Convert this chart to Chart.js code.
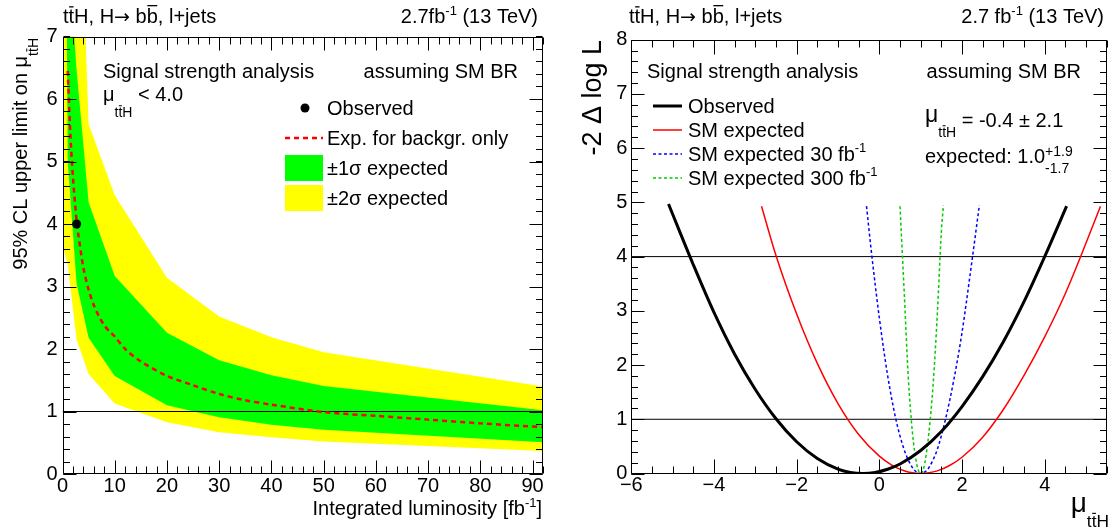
<!DOCTYPE html>
<html>
<head>
<meta charset="utf-8">
<script src="https://cdn.jsdelivr.net/npm/chart.js@4.4.1/dist/chart.umd.min.js"></script>
<style>
  html, body { margin: 0; padding: 0; background: #fff; }
  #wrap { position: relative; width: 1113px; height: 531px; overflow: hidden; }
  canvas { position: absolute; top: 0; }
  #cL { left: 0; }
  #cR { left: 556px; }
</style>
</head>
<body>
<div id="wrap">
  <canvas id="cL" width="556" height="531"></canvas>
  <canvas id="cR" width="557" height="531"></canvas>
</div>
<script>
// ---------- left panel: 95% CL upper limit on mu vs integrated luminosity ----------
const lumiBand   = [0.2, 1, 2.7, 5, 10, 20, 30, 40, 50, 92];
const band2SigLo = [3.6, 3.35, 2.15, 1.6, 1.13, 0.83, 0.67, 0.59, 0.52, 0.37];
const band1SigLo = [15, 5.0, 3.05, 2.18, 1.57, 1.1, 0.91, 0.79, 0.71, 0.51];
const band1SigHi = [25, 8.5, 6.46, 4.35, 3.17, 2.26, 1.82, 1.58, 1.41, 1.02];
const band2SigHi = [35, 20, 11, 5.6, 4.46, 3.14, 2.52, 2.19, 1.95, 1.40];
const lumiExp    = [1, 1.5, 2, 2.7, 3, 4, 5, 6, 7, 8, 9, 10, 12, 15, 20, 25, 30, 35, 40, 50, 60, 70, 80, 92];
const limitExp   = [6.45, 5.45, 4.75, 4.05, 3.85, 3.3, 2.95, 2.7, 2.52, 2.38, 2.28, 2.2, 2.0, 1.8, 1.57, 1.42, 1.28, 1.18, 1.11, 0.99, 0.93, 0.87, 0.81, 0.75];
const lumiObs    = [2.7];
const limitObs   = [4.0];
const lumiRange  = [0, 92];
const limitRange = [0, 7];
const lumiTicks  = [0, 10, 20, 30, 40, 50, 60, 70, 80, 90];
const limitTicks = [0, 1, 2, 3, 4, 5, 6, 7];
const limitRefLevels = [1];

// ---------- right panel: -2 delta log L scans ----------
const muObs    = [-5.1, -4.5, -4.0, -3.5, -3.0, -2.5, -2.0, -1.5, -1.0, -0.7, -0.4, -0.1, 0.2, 0.5, 1.0, 1.5, 2.0, 2.5, 3.0, 3.5, 4.0, 4.53];
const nllObs   = [4.97, 3.85, 2.97, 2.20, 1.55, 1.01, 0.586, 0.277, 0.082, 0.021, 0, 0.019, 0.078, 0.175, 0.424, 0.774, 1.235, 1.786, 2.43, 3.17, 4.0, 4.93];
const muSM     = [-2.85, -2.5, -2.0, -1.5, -1.0, -0.5, 0, 0.3, 0.6, 0.8, 1.0, 1.2, 1.4, 1.7, 2.0, 2.5, 3.0, 3.5, 4.0, 4.5, 5.0, 5.35];
const nllSM    = [4.93, 4.02, 2.94, 2.03, 1.29, 0.72, 0.32, 0.156, 0.051, 0.013, 0, 0.012, 0.048, 0.148, 0.30, 0.67, 1.18, 1.81, 2.52, 3.32, 4.25, 4.93];
const muSM30   = [-0.31, -0.2, 0, 0.2, 0.4, 0.6, 0.8, 0.9, 1.0, 1.1, 1.2, 1.4, 1.6, 1.8, 2.0, 2.2, 2.42];
const nllSM30  = [4.93, 4.14, 2.87, 1.81, 1.0, 0.44, 0.11, 0.028, 0, 0.028, 0.11, 0.44, 1.0, 1.72, 2.6, 3.69, 4.95];
const muSM300  = [0.5, 0.6, 0.7, 0.8, 0.9, 0.95, 1.0, 1.05, 1.1, 1.2, 1.3, 1.4, 1.5, 1.55];
const nllSM300 = [4.93, 3.37, 1.78, 0.76, 0.19, 0.047, 0, 0.047, 0.19, 0.76, 1.63, 2.9, 4.45, 4.95];
const muRange  = [-6, 5.5];
const nllRange = [0, 8];
const muTicks  = [-6, -4, -2, 0, 2, 4];
const muTickLabels = ['\u22126', '\u22124', '\u22122', '0', '2', '4'];
const nllTicks = [0, 1, 2, 3, 4, 5, 6, 7, 8];
const nllRefLevels = [1, 4];

const FONT = '"Liberation Sans", Arial, Helvetica, sans-serif';
const SYMFONT = '"DejaVu Sans", sans-serif';
const YELLOW = '#ffff00', GREEN = '#00ff00';

const pts = (xs, ys) => xs.map((x, i) => ({ x, y: ys[i] }));
const flat = (range, level) => [{ x: range[0], y: level }, { x: range[1], y: level }];
const noLine = { borderColor: 'rgba(0,0,0,0)', borderWidth: 0, pointRadius: 0, tension: 0 };

// text with sub/superscripts and overbars
function richText(ctx, parts, x, y, size, align) {
  const items = parts.map(p => (typeof p === 'string') ? { t: p } : Object.assign({}, p));
  let total = 0;
  for (const it of items) {
    it.fs = size * (it.sc || 1);
    it.font = it.fs + 'px ' + (it.ff || FONT);
    ctx.font = it.font;
    it.w = it.stack ? Math.max(...it.stack.map(s => ctx.measureText(s).width)) : ctx.measureText(it.t).width;
    total += it.w;
  }
  let cx = align === 'right' ? x - total : (align === 'center' ? x - total / 2 : x);
  ctx.textAlign = 'left';
  ctx.textBaseline = 'alphabetic';
  for (const it of items) {
    ctx.font = it.font;
    if (it.stack) {
      ctx.fillText(it.stack[0], cx, y + it.up * size);
      ctx.fillText(it.stack[1], cx, y + it.dn * size);
    } else {
      const by = y + (it.dy || 0) * size;
      ctx.fillText(it.t, cx, by);
      if (it.bar) ctx.fillRect(cx + it.fs * 0.03, by - it.fs * it.bar, it.w - it.fs * 0.06, Math.max(1, it.fs * 0.065));
    }
    cx += it.w;
  }
}
const ttH = (sc, dy) => [{ t: 't', sc, dy }, { t: 't', sc, dy, bar: 0.84 }, { t: 'H', sc, dy }];
const header = ['t', { t: 't', bar: 0.84 }, 'H, H', { t: '\u2192', ff: SYMFONT, sc: 0.95 }, ' b', { t: 'b', bar: 0.9 }, ', l+jets'];

// frame with inward ticks on all four sides, placed through the chart scales
const frameTicks = {
  id: 'frameTicks',
  afterDatasetsDraw(chart, args, o) {
    const { ctx, chartArea: a, scales: { x, y } } = chart;
    const L = Math.round(a.left) + 0.5, R = Math.round(a.right) - 0.5;
    const T = Math.round(a.top) + 0.5, B = Math.round(a.bottom) - 0.5;
    ctx.save();
    ctx.strokeStyle = '#000';
    ctx.lineWidth = 1;
    ctx.beginPath();
    ctx.rect(L, T, R - L, B - T);
    const xt = (v, len) => {
      const p = Math.round(x.getPixelForValue(v)) + 0.5;
      ctx.moveTo(p, B); ctx.lineTo(p, B - len);
      ctx.moveTo(p, T); ctx.lineTo(p, T + len);
    };
    const yt = (v, len) => {
      const p = Math.round(y.getPixelForValue(v)) + 0.5;
      ctx.moveTo(L, p); ctx.lineTo(L + len, p);
      ctx.moveTo(R, p); ctx.lineTo(R - len, p);
    };
    const eps = 1e-9;
    for (let v = o.xMin; v <= o.xMax + eps; v += o.xMinor) xt(v, o.xMinLen);
    for (let v = o.xFirstMajor; v <= o.xMax + eps; v += o.xMajor) xt(v, o.xMajLen);
    for (let v = o.yMin; v <= o.yMax + eps; v += o.yMinor) yt(v, o.yMinLen);
    for (let v = o.yMin; v <= o.yMax + eps; v += o.yMajor) yt(v, o.yMajLen);
    ctx.stroke();
    ctx.restore();
  }
};

const tickFont = { family: FONT, size: 20 };

// ---------- left chart ----------
const leftTexts = {
  id: 'leftTexts',
  afterDraw(chart) {
    const ctx = chart.ctx;
    ctx.save();
    ctx.fillStyle = '#000';
    richText(ctx, header, 63, 23, 20, 'left');
    richText(ctx, ['2.7fb', { t: '-1', sc: 0.65, dy: -0.42 }, ' (13 TeV)'], 538, 23, 20, 'right');
    richText(ctx, ['Signal strength analysis'], 103, 78, 20, 'left');
    richText(ctx, ['assuming SM BR'], 518, 78, 20, 'right');
    richText(ctx, [{ t: '\u03bc' }, ...ttH(0.7, 0.8), ' < 4.0'], 103, 101, 20, 'left');

    // legend
    ctx.beginPath();
    ctx.arc(305, 108, 4.5, 0, Math.PI * 2);
    ctx.fill();
    richText(ctx, ['Observed'], 327, 115, 20, 'left');
    ctx.save();
    ctx.strokeStyle = '#ff0000';
    ctx.lineWidth = 2.5;
    ctx.setLineDash([5, 4]);
    ctx.beginPath(); ctx.moveTo(285, 138); ctx.lineTo(323, 138); ctx.stroke();
    ctx.restore();
    richText(ctx, ['Exp. for backgr. only'], 327, 145, 20, 'left');
    ctx.fillStyle = GREEN; ctx.fillRect(285, 155, 38, 26);
    ctx.fillStyle = YELLOW; ctx.fillRect(285, 185, 38, 26);
    ctx.fillStyle = '#000';
    richText(ctx, ['\u00b11\u03c3 expected'], 327, 175, 20, 'left');
    richText(ctx, ['\u00b12\u03c3 expected'], 327, 205, 20, 'left');

    // axis titles
    richText(ctx, ['Integrated luminosity [fb', { t: '-1', sc: 0.65, dy: -0.42 }, ']'], 542, 515, 20, 'right');
    ctx.save();
    ctx.translate(27, 38);
    ctx.rotate(-Math.PI / 2);
    richText(ctx, ['95% CL upper limit on \u03bc', ...ttH(0.7, 0.55)], 0, 0, 20, 'right');
    ctx.restore();
    ctx.restore();
  }
};

new Chart(document.getElementById('cL'), {
  type: 'line',
  data: {
    datasets: [
      Object.assign({ data: pts(lumiBand, band2SigHi), fill: 1, backgroundColor: YELLOW, order: 10 }, noLine),
      Object.assign({ data: pts(lumiBand, band2SigLo), fill: false, order: 9 }, noLine),
      Object.assign({ data: pts(lumiBand, band1SigHi), fill: 3, backgroundColor: GREEN, order: 8 }, noLine),
      Object.assign({ data: pts(lumiBand, band1SigLo), fill: false, order: 7 }, noLine),
      ...limitRefLevels.map(l => ({ data: flat(lumiRange, l), borderColor: '#000', borderWidth: 1, pointRadius: 0, fill: false, order: 5 })),
      { data: pts(lumiExp, limitExp), borderColor: '#ff0000', borderWidth: 2.5, borderDash: [5, 4], pointRadius: 0, fill: false, tension: 0.3, order: 3 },
      { data: pts(lumiObs, limitObs), showLine: false, pointRadius: 4.5, pointBackgroundColor: '#000', pointBorderWidth: 0, borderColor: '#000', order: 1 }
    ]
  },
  options: {
    responsive: false, animation: false, events: [],
    layout: { padding: { left: 0, right: 13, top: 36.5, bottom: 0 } },
    plugins: {
      legend: { display: false }, tooltip: { enabled: false },
      frameTicks: { xMin: 0, xMax: 92, xMinor: 2, xMajor: 10, xFirstMajor: 0, xMajLen: 13, xMinLen: 7,
                    yMin: 0, yMax: 7, yMinor: 0.2, yMajor: 1, yMajLen: 13, yMinLen: 6.5 }
    },
    scales: {
      x: {
        type: 'linear', min: lumiRange[0], max: lumiRange[1],
        grid: { display: false, drawTicks: false }, border: { display: false },
        afterBuildTicks: s => { s.ticks = lumiTicks.map(v => ({ value: v })); },
        afterFit: s => { s.height = 57; },
        ticks: { font: tickFont, color: '#000', padding: 0, autoSkip: false, maxRotation: 0 }
      },
      y: {
        type: 'linear', min: limitRange[0], max: limitRange[1],
        grid: { display: false, drawTicks: false }, border: { display: false },
        afterBuildTicks: s => { s.ticks = limitTicks.map(v => ({ value: v })); },
        afterFit: s => { s.width = 62.5; },
        ticks: { font: tickFont, color: '#000', padding: 5, autoSkip: false }
      }
    }
  },
  plugins: [frameTicks, leftTexts]
});

// ---------- right chart ----------
const OFF = 556;
const rightTexts = {
  id: 'rightTexts',
  afterDraw(chart) {
    const ctx = chart.ctx;
    ctx.save();
    ctx.translate(-OFF, 0);
    ctx.fillStyle = '#000';
    richText(ctx, header, 629, 23, 20, 'left');
    richText(ctx, ['2.7 fb', { t: '-1', sc: 0.65, dy: -0.42 }, ' (13 TeV)'], 1104, 23, 20, 'right');
    richText(ctx, ['Signal strength analysis'], 647, 78, 20, 'left');
    richText(ctx, ['assuming SM BR'], 1081, 78, 20, 'right');

    // legend
    const rows = [
      { y: 106, color: '#000', w: 3, dash: [], label: ['Observed'] },
      { y: 130, color: '#ff0000', w: 1.5, dash: [], label: ['SM expected'] },
      { y: 154, color: '#0000ff', w: 1.5, dash: [3, 2.5], label: ['SM expected 30 fb', { t: '-1', sc: 0.65, dy: -0.42 }] },
      { y: 178, color: '#00cc00', w: 1.5, dash: [3, 2.5], label: ['SM expected 300 fb', { t: '-1', sc: 0.65, dy: -0.42 }] }
    ];
    for (const r of rows) {
      ctx.save();
      ctx.strokeStyle = r.color; ctx.lineWidth = r.w; ctx.setLineDash(r.dash);
      ctx.beginPath(); ctx.moveTo(653, r.y); ctx.lineTo(682, r.y); ctx.stroke();
      ctx.restore();
      richText(ctx, r.label, 688, r.y + 6.5, 20, 'left');
    }
    richText(ctx, [{ t: '\u03bc', sc: 1.15, dy: -0.25 }, ...ttH(0.7, 0.5), ' = -0.4 \u00b1 2.1'], 925, 127, 20, 'left');
    richText(ctx, ['expected: 1.0', { stack: ['+1.9', '-1.7'], sc: 0.7, up: -0.37, dn: 0.5 }], 925, 163, 20, 'left');

    // axis titles
    richText(ctx, [{ t: '\u03bc' }, ...ttH(0.62, 0.55)], 1109, 512, 28, 'right');
    ctx.save();
    ctx.translate(601, 40);
    ctx.rotate(-Math.PI / 2);
    richText(ctx, ['-2 \u0394 log L'], 0, 0, 27, 'right');
    ctx.restore();
    ctx.restore();
  }
};

const curve = (xs, ys, color, width, dash) => ({
  data: pts(xs, ys), borderColor: color, borderWidth: width, borderDash: dash, pointRadius: 0,
  fill: false, cubicInterpolationMode: 'monotone', order: 2
});

new Chart(document.getElementById('cR'), {
  type: 'line',
  data: {
    datasets: [
      curve(muObs, nllObs, '#000000', 3, []),
      curve(muSM, nllSM, '#ff0000', 1.5, []),
      curve(muSM30, nllSM30, '#0000ff', 1.5, [3, 2.5]),
      curve(muSM300, nllSM300, '#00cc00', 1.5, [3, 2.5]),
      ...nllRefLevels.map(l => ({ data: flat(muRange, l), borderColor: '#000', borderWidth: 1, pointRadius: 0, fill: false, order: 5 }))
    ]
  },
  options: {
    responsive: false, animation: false, events: [],
    layout: { padding: { left: 0, right: 6.3, top: 39.7, bottom: 0 } },
    plugins: {
      legend: { display: false }, tooltip: { enabled: false },
      frameTicks: { xMin: -6, xMax: 5.5, xMinor: 0.5, xMajor: 2, xFirstMajor: -6, xMajLen: 14, xMinLen: 7,
                    yMin: 0, yMax: 8, yMinor: 0.2, yMajor: 1, yMajLen: 13, yMinLen: 6.5 }
    },
    scales: {
      x: {
        type: 'linear', min: muRange[0], max: muRange[1],
        grid: { display: false, drawTicks: false }, border: { display: false },
        afterBuildTicks: s => { s.ticks = muTicks.map(v => ({ value: v })); },
        afterFit: s => { s.height = 57.5; },
        ticks: { font: tickFont, color: '#000', padding: 0, autoSkip: false, maxRotation: 0,
                 callback: (v) => muTickLabels[muTicks.indexOf(v)] }
      },
      y: {
        type: 'linear', min: nllRange[0], max: nllRange[1],
        grid: { display: false, drawTicks: false }, border: { display: false },
        afterBuildTicks: s => { s.ticks = nllTicks.map(v => ({ value: v })); },
        afterFit: s => { s.width = 75.3; },
        ticks: { font: tickFont, color: '#000', padding: 4, autoSkip: false }
      }
    }
  },
  plugins: [frameTicks, rightTexts]
});
</script>
</body>
</html>
